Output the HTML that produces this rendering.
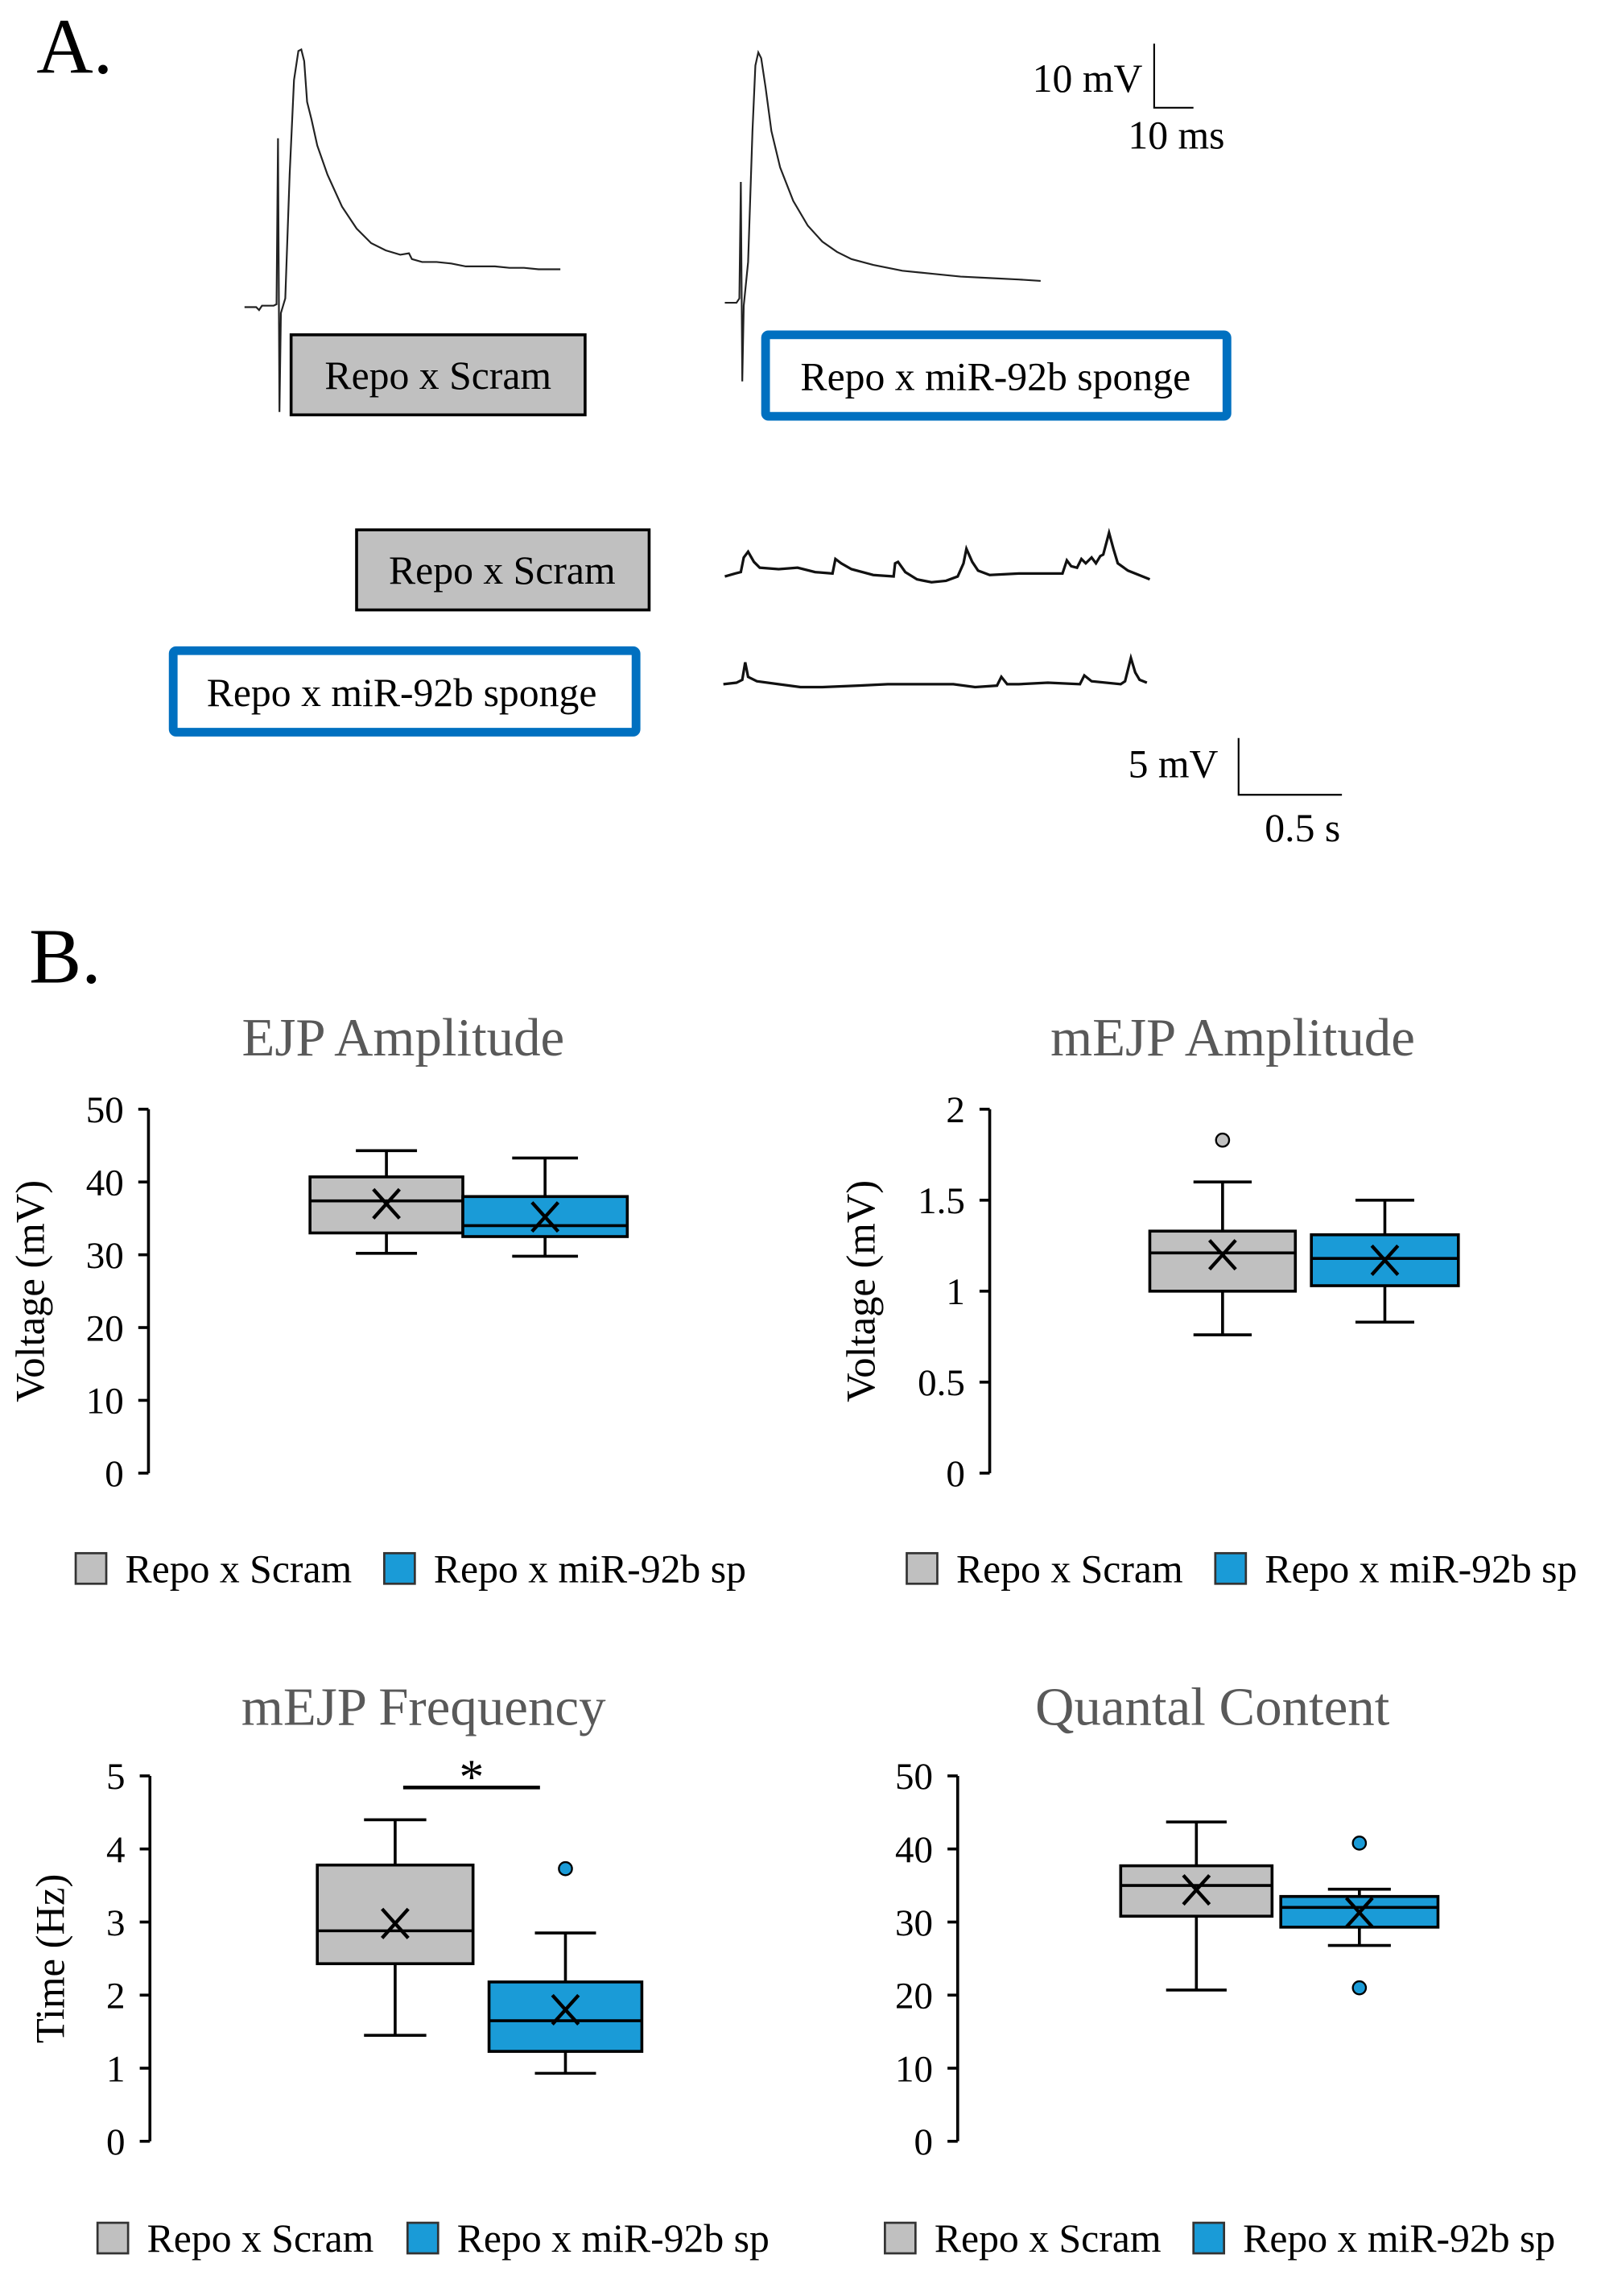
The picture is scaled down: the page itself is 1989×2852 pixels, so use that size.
<!DOCTYPE html>
<html><head><meta charset="utf-8">
<style>
html,body{margin:0;padding:0;background:#fff;}
svg{display:block;}
text{font-family:"Liberation Serif",serif;}
</style></head>
<body>
<svg id="fig" width="1989" height="2852" viewBox="0 0 1100 1577.3" xmlns="http://www.w3.org/2000/svg">
<g>
<text x="25" y="50" font-size="54">A.</text>
<polyline fill="none" stroke="#222" stroke-width="1.2"
 points="168,211 176,211 178,213 180,210 188,210 190,209 191,95 192,283 193,215 196,205 199,120 202,55 205,35 207,34 209,42 211,70 214,82 218,100 225,120 235,142 245,157 255,167 265,172 275,175 281,174 283,178 290,180 300,180 310,181 320,183 330,183 340,183 350,184 360,184 370,185 385,185"/>
<polyline fill="none" stroke="#222" stroke-width="1.2"
 points="498,208 506,208 508,205 509,125 510,262 511,210 514,180 517,90 519,45 521,36 523,40 526,60 530,90 536,115 545,138 555,155 565,166 575,173 585,178 600,182 620,186 640,188 660,190 680,191 700,192 715,193"/>
<rect x="200" y="230" width="202" height="55" fill="#c0c0c0" stroke="#000" stroke-width="2"/>
<text x="301" y="267" font-size="27.5" text-anchor="middle">Repo x Scram</text>
<rect x="526" y="230" width="317" height="56" rx="2" fill="#fff" stroke="#0070c0" stroke-width="6"/>
<text x="684" y="268" font-size="27.5" text-anchor="middle">Repo x miR-92b sponge</text>
<path d="M793,30 V74 H820" fill="none" stroke="#000" stroke-width="1.2"/>
<text x="785" y="63" font-size="27.5" text-anchor="end">10 mV</text>
<text x="775" y="102" font-size="27.5">10 ms</text>

<rect x="245" y="364" width="201" height="55" fill="#c0c0c0" stroke="#000" stroke-width="2"/>
<text x="345" y="401" font-size="27.5" text-anchor="middle">Repo x Scram</text>
<rect x="119" y="447" width="318" height="56" rx="2" fill="#fff" stroke="#0070c0" stroke-width="6"/>
<text x="276" y="485" font-size="27.5" text-anchor="middle">Repo x miR-92b sponge</text>
<polyline fill="none" stroke="#111" stroke-width="1.8"
 points="498,396 505,394 509,393 511,383 514,379 518,386 522,390 535,391 548,390 560,393 572,394 574,384 578,387 585,391 600,395 614,396 615,387 617,386 622,393 630,398 640,400 650,399 658,396 662,387 664,377 668,386 672,392 680,395 700,394 720,394 730,394 733,385 736,389 740,390 743,384 746,387 750,383 753,387 756,382 758,381 762,366 765,377 768,387 775,392 790,398"/>
<polyline fill="none" stroke="#111" stroke-width="1.8"
 points="497,470 506,469 510,467 512,455 514,465 520,468 535,470 550,472 565,472 590,471 610,470 640,470 655,470 670,472 685,471 688,465 692,470 700,470 720,469 742,470 745,464 750,468 770,470 773,468 777,452 780,462 783,467 788,469"/>
<path d="M851,507 V546 H922" fill="none" stroke="#000" stroke-width="1.2"/>
<text x="837" y="534" font-size="27.5" text-anchor="end">5 mV</text>
<text x="869" y="578" font-size="27.5">0.5 s</text>
</g>
<text x="20" y="675" font-size="54">B.</text>
<g id="charts"></g>
</svg>
<script>
// EJP Amplitude
const ejpTicks = [0,10,20,30,40,50];
const ejpScram = [30.2,33.0,37.4,40.7,44.3];
const ejpSponge = [29.8,32.5,34.0,38.0,43.3];
const ejpMeans = [37.0,35.2];
const ejpOutScram = [];
const ejpOutSponge = [];
// mEJP Amplitude
const mampTicks = [0,0.5,1,1.5,2];
const mampScram = [0.76,1.0,1.21,1.33,1.6];
const mampSponge = [0.83,1.03,1.18,1.31,1.5];
const mampMeans = [1.2,1.17];
const mampOutScram = [1.83];
const mampOutSponge = [];
// mEJP Frequency
const freqTicks = [0,1,2,3,4,5];
const freqScram = [1.45,2.43,2.88,3.78,4.4];
const freqSponge = [0.93,1.23,1.65,2.18,2.85];
const freqMeans = [2.98,1.8];
const freqOutScram = [];
const freqOutSponge = [3.73];
// Quantal Content
const qcTicks = [0,10,20,30,40,50];
const qcScram = [20.7,30.8,35.0,37.7,43.7];
const qcSponge = [26.8,29.3,32.0,33.5,34.5];
const qcMeans = [34.4,31.3];
const qcOutScram = [];
const qcOutSponge = [40.8,21.0];

const NS='http://www.w3.org/2000/svg';
const root=document.getElementById('charts');
function mk(tag,attrs,parent){const e=document.createElementNS(NS,tag);for(const k in attrs)e.setAttribute(k,attrs[k]);(parent||root).appendChild(e);return e;}

function chart(cfg){
  const g=mk('g',{});
  
  
  const max=cfg.ticks[cfg.ticks.length-1];
  const y=v=>cfg.y0-(v/max)*(cfg.y0-cfg.yTop);
  const t=mk('text',{x:cfg.titleX,y:cfg.titleY,'font-size':37,fill:'#595959','text-anchor':'middle'},g);
  t.textContent=cfg.title;
  
  
  const ax=mk('line',{x1:cfg.ax,x2:cfg.ax,y1:y(0),y2:y(max),stroke:'#000','stroke-width':2},g);
  
  
  cfg.ticks.forEach(v=>{
    mk('line',{x1:cfg.ax-7,x2:cfg.ax,y1:y(v),y2:y(v),stroke:'#000','stroke-width':2},g);
    const tl=mk('text',{x:cfg.ax-17,y:y(v)+9,'font-size':26,'text-anchor':'end'},g);
    tl.textContent=String(v);
    
    
  });
  const yt=mk('text',{x:0,y:0,'font-size':28,'text-anchor':'middle',transform:`translate(${cfg.ytX},${(y(0)+y(max))/2}) rotate(-90)`},g);
  yt.textContent=cfg.yTitle;
  
  
  const groups=[[cfg.scram,cfg.b1,'#c0c0c0',cfg.means[0],cfg.out1,'box-scram'],[cfg.sponge,cfg.b2,'#1a9bd7',cfg.means[1],cfg.out2,'box-sponge']];
  groups.forEach(([s,[x1,x2],fill,mean,outs,nm])=>{
    const bg=mk('g',{},g);
    
    
    const cx=(x1+x2)/2, cw=(x2-x1)*0.2;
    mk('line',{x1:cx,x2:cx,y1:y(s[0]),y2:y(s[4]),stroke:'#000','stroke-width':2},bg);
    mk('line',{x1:cx-cw,x2:cx+cw,y1:y(s[0]),y2:y(s[0]),stroke:'#000','stroke-width':2},bg);
    mk('line',{x1:cx-cw,x2:cx+cw,y1:y(s[4]),y2:y(s[4]),stroke:'#000','stroke-width':2},bg);
    mk('rect',{x:x1,y:y(s[3]),width:x2-x1,height:y(s[1])-y(s[3]),fill:fill,stroke:'#000','stroke-width':2},bg);
    mk('line',{x1:x1,x2:x2,y1:y(s[2]),y2:y(s[2]),stroke:'#000','stroke-width':2},bg);
    const my=y(mean);
    mk('path',{d:`M${cx-9},${my-10}L${cx+9},${my+10}M${cx+9},${my-10}L${cx-9},${my+10}`,stroke:'#000','stroke-width':2.4,fill:'none'},bg);
    outs.forEach(o=>{
      const c=mk('circle',{cx:cx,cy:y(o),r:4.5,fill:fill,stroke:'#000','stroke-width':1.3},bg);
      
      
    });
  });
  if(cfg.sig){
    mk('line',{x1:cfg.sig[0],x2:cfg.sig[1],y1:cfg.sig[2],y2:cfg.sig[2],stroke:'#000','stroke-width':2.5},g);
    const st=mk('text',{x:(cfg.sig[0]+cfg.sig[1])/2,y:cfg.sig[2]+4,'font-size':34,'text-anchor':'middle'},g);
    st.textContent='*';
    
    
  }
  const lg=mk('g',{},g);
  
  
  [[cfg.leg[0],'#c0c0c0','Repo x Scram'],[cfg.leg[1],'#1a9bd7','Repo x miR-92b sp']].forEach(([lx,f,label])=>{
    mk('rect',{x:lx,y:cfg.legY-11,width:21,height:21,fill:f,stroke:'#333','stroke-width':1.5},lg);
    const lt=mk('text',{x:lx+34,y:cfg.legY+9,'font-size':27.5},lg);
    lt.textContent=label;
    
    
  });
}
chart({name:'chart-ejp-amplitude',title:'EJP Amplitude',titleX:277,titleY:725,ticks:ejpTicks,y0:1012,yTop:762,ax:102,ytX:30,yTitle:'Voltage (mV)',
  scram:ejpScram,sponge:ejpSponge,means:ejpMeans,out1:ejpOutScram,out2:ejpOutSponge,b1:[213,318],b2:[318,431],leg:[52,264],legY:1078});
chart({name:'chart-mejp-amplitude',title:'mEJP Amplitude',titleX:847,titleY:725,ticks:mampTicks,y0:1012,yTop:762,ax:680,ytX:601,yTitle:'Voltage (mV)',
  scram:mampScram,sponge:mampSponge,means:mampMeans,out1:mampOutScram,out2:mampOutSponge,b1:[790,890],b2:[901,1002],leg:[623,835],legY:1078});
chart({name:'chart-mejp-frequency',title:'mEJP Frequency',titleX:291,titleY:1185,ticks:freqTicks,y0:1471,yTop:1220,ax:103,ytX:44,yTitle:'Time (Hz)',
  scram:freqScram,sponge:freqSponge,means:freqMeans,out1:freqOutScram,out2:freqOutSponge,b1:[218,325],b2:[336,441],leg:[67,280],legY:1538,sig:[277,371,1228]});
chart({name:'chart-quantal-content',title:'Quantal Content',titleX:833,titleY:1185,ticks:qcTicks,y0:1471,yTop:1220,ax:658,ytX:600,yTitle:'',
  scram:qcScram,sponge:qcSponge,means:qcMeans,out1:qcOutScram,out2:qcOutSponge,b1:[770,874],b2:[880,988],leg:[608,820],legY:1538});
</script>
</body></html>
